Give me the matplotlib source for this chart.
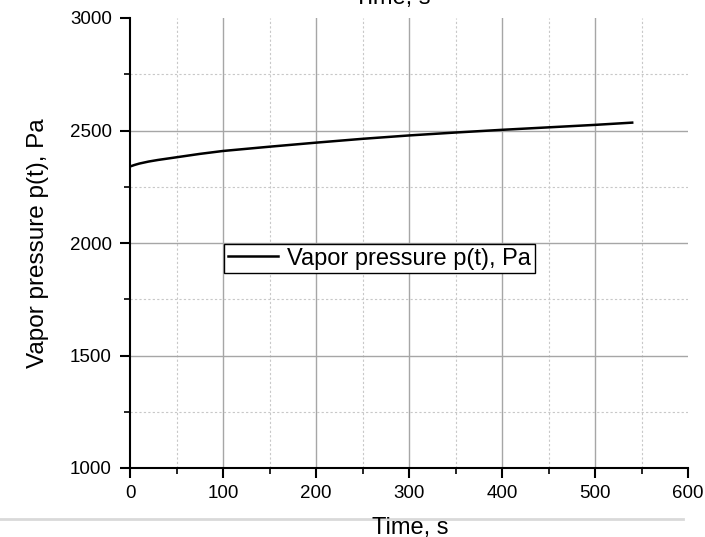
import matplotlib
matplotlib.use("Agg")
import matplotlib.pyplot as plt
from matplotlib.lines import Line2D
from matplotlib.ticker import MultipleLocator

plt.rcParams['font.family'] = ['Liberation Sans', 'DejaVu Sans']

# Data
time_s = [0, 5, 10, 20, 30, 50, 75, 100, 150, 200, 250, 300, 350, 400, 450, 500, 540]
pressure_pa = [2340, 2347, 2353, 2362, 2369, 2381, 2396, 2409, 2428, 2446, 2463, 2478, 2491, 2503, 2514, 2525, 2535]
series_label = "Vapor pressure p(t), Pa"
x_label = "Time, s"
y_label = "Vapor pressure p(t), Pa"

W, H = 705, 537
fig = plt.figure(figsize=(W / 100, H / 100), dpi=100)
ax = fig.add_axes([130 / W, 1 - 468 / H, (688 - 130) / W, (468 - 18) / H])

ax.plot(time_s, pressure_pa, color='black', lw=1.8, label=series_label, zorder=5)

ax.set_xlim(0, 600)
ax.set_ylim(1000, 3000)
ax.xaxis.set_major_locator(MultipleLocator(100))
ax.xaxis.set_minor_locator(MultipleLocator(50))
ax.yaxis.set_major_locator(MultipleLocator(500))
ax.yaxis.set_minor_locator(MultipleLocator(250))

# grid lines (skip the ones on the borders)
for x in range(100, 600, 100):
    ax.axvline(x, color='#a6a6a6', lw=1.0, zorder=1)
for x in range(50, 600, 100):
    ax.axvline(x, color='#c8c8c8', lw=0.8, ls=(0, (2, 2)), zorder=1)
for y in range(1500, 3000, 500):
    ax.axhline(y, color='#a6a6a6', lw=1.0, zorder=1)
for y in range(1250, 3000, 500):
    ax.axhline(y, color='#c8c8c8', lw=0.8, ls=(0, (2, 2)), zorder=1)

for s in ['top', 'right']:
    ax.spines[s].set_visible(False)
for s in ['left', 'bottom']:
    ax.spines[s].set_linewidth(1.5)

ax.tick_params(which='major', direction='out', length=7, width=1.5, labelsize=13.5, colors='black')
ax.tick_params(axis='x', which='major', pad=5)
ax.tick_params(axis='y', which='major', pad=6)
ax.tick_params(which='minor', direction='out', length=4, width=1.2)

leg = ax.legend(loc='upper left', bbox_to_anchor=(224 / W, 1 - 244 / H),
                bbox_transform=fig.transFigure, borderaxespad=0, fontsize=17,
                frameon=True, fancybox=False, edgecolor='black', framealpha=1,
                handlelength=2.15, handletextpad=0.38, borderpad=0.15)
leg.get_frame().set_linewidth(1.0)

fig.text(410 / W, 1 - 534 / H, x_label, ha='center', va='baseline', fontsize=17)
fig.text(392 / W, 1 - 4 / H, x_label, ha='center', va='baseline', fontsize=17)
fig.text(38 / W, 1 - 243 / H, y_label, ha='center', va='center', rotation=90, fontsize=17.5)

fig.add_artist(Line2D([0, 683 / W], [1 - 519 / H, 1 - 519 / H], color='#d9d9d9', lw=2,
                      transform=fig.transFigure))

fig.savefig("out.png", dpi=100)
